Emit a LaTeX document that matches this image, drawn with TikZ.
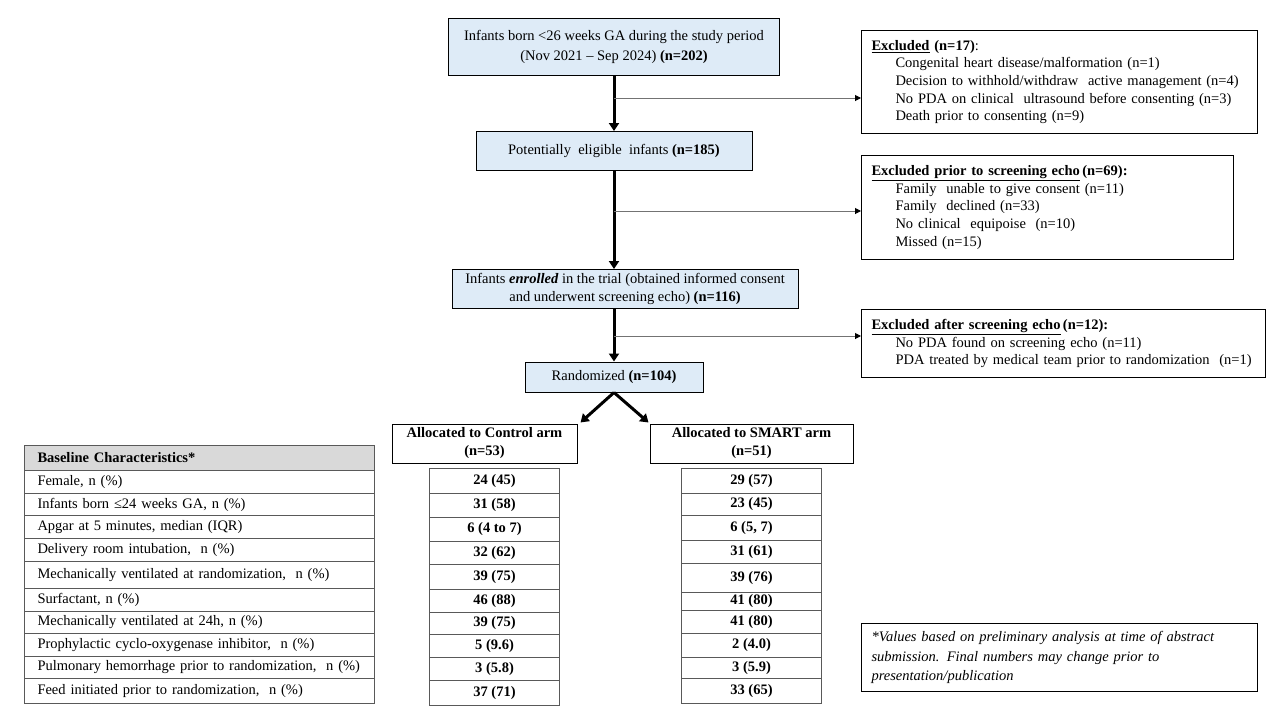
\documentclass[tikz,border=0pt]{standalone}
\usepackage{fontspec}
\setmainfont{Liberation Serif}
\usetikzlibrary{arrows.meta}
\definecolor{flowblue}{HTML}{DEEBF7}
\definecolor{hdrgray}{HTML}{D9D9D9}
\begin{document}
\begin{tikzpicture}[x=1pt,y=-1pt,
  font=\fontsize{14.5}{18}\selectfont,
  flow/.style={draw=black, line width=1pt, fill=flowblue, align=center, inner sep=0pt},
  armbox/.style={draw=black, line width=1pt, fill=white, align=center, inner sep=0pt, font=\bfseries\fontsize{14.5}{18}\selectfont},
  exbox/.style={draw=black, line width=1pt, align=left, inner xsep=10pt, inner ysep=0pt, anchor=north west, font=\fontsize{14.5}{17.6}\selectfont},
  cell/.style={draw=black!65, line width=1pt, align=left, inner xsep=13pt, inner ysep=0pt, anchor=north west, text width=324pt},
  vcell/.style={draw=black!65, line width=1pt, align=center, inner sep=0pt, anchor=north west, font=\bfseries\fontsize{14.5}{18}\selectfont},
  mainarrow/.style={line width=3pt, -{Triangle[width=10pt,length=8pt]}},
  sidearrow/.style={line width=1pt, draw=black!55, -{Triangle[width=6pt,length=6pt,color=black]}}
]
\fill[white] (0,0) rectangle (1280,720);
\useasboundingbox (0,0) rectangle (1280,720);

% main flow
\node[flow, minimum width=331pt, minimum height=57pt, font=\fontsize{14.5}{20}\selectfont] (b1) at (614,46.5)
  {Infants born <26 weeks GA during the study period\\(Nov 2021 -- Sep 2024) \textbf{(n=202)}};
\node[flow, minimum width=276pt, minimum height=39pt] (b2) at (614,151)
  {Potentially\ \ eligible\ \ infants \textbf{(n=185)}};
\node[flow, minimum width=346pt, minimum height=39pt, font=\fontsize{14.5}{17.5}\selectfont] (b3) at (625,289)
  {Infants \textbf{\textit{enrolled}} in the trial (obtained informed consent\\and underwent screening echo) \textbf{(n=116)}};
\node[flow, minimum width=178pt, minimum height=30pt] (b4) at (614,377)
  {Randomized \textbf{(n=104)}};

\node[armbox, minimum width=185pt, minimum height=39pt] (ctrl) at (484.5,443.5)
  {Allocated to Control arm\\(n=53)};
\node[armbox, minimum width=203pt, minimum height=39pt] (smart) at (751.5,443.5)
  {Allocated to SMART arm\\(n=51)};

\draw[mainarrow] (b1.south) -- (b2.north);
\draw[mainarrow] (b2.south) -- (b2.south |- b3.north);
\draw[mainarrow] (b4.north |- b3.south) -- (b4.north);
\draw[mainarrow] (b4.south) -- ([xshift=3pt,yshift=1pt]ctrl.north east);
\draw[mainarrow] (b4.south) -- ([xshift=-1pt,yshift=1pt]smart.north west);

% exclusion boxes
\node[exbox, minimum width=396pt, minimum height=103pt, text width=376pt] (ex1) at (861,30)
  {\underline{\textbf{Excluded}} \textbf{(n=17)}:\\
   \hspace*{24pt}Congenital\ heart disease/malformation (n=1)\\
   \hspace*{24pt}Decision to withhold/withdraw\ \ active management (n=4)\\
   \hspace*{24pt}No PDA on clinical\ \ ultrasound before consenting (n=3)\\
   \hspace*{24pt}Death prior\ to consenting (n=9)};
\node[exbox, minimum width=372pt, minimum height=104pt, text width=352pt] (ex2) at (861,155)
  {\underline{\textbf{Excluded prior to screening echo}}\,\textbf{(n=69):}\\
   \hspace*{24pt}Family\ \ unable to give consent (n=11)\\
   \hspace*{24pt}Family\ \ declined (n=33)\\
   \hspace*{24pt}No clinical\ \ equipoise\ \ (n=10)\\
   \hspace*{24pt}Missed (n=15)};
\node[exbox, minimum width=404pt, minimum height=68pt, text width=384pt] (ex3) at (861,309)
  {\underline{\textbf{Excluded after screening echo}}\,\textbf{(n=12):}\\
   \hspace*{24pt}No PDA found on screening echo (n=11)\\
   \hspace*{24pt}PDA treated by medical team prior\ to randomization\ \ (n=1)};
\node[exbox, minimum width=396pt, minimum height=68pt, text width=376pt, font=\itshape\fontsize{14.5}{19.5}\selectfont] (foot) at (861,623)
  {*Values based on preliminary analysis at time of abstract\\
   submission. Final numbers may change prior to\\
   presentation/publication};

\coordinate (j1) at (614,98);
\coordinate (j2) at (614,211);
\coordinate (j3) at (614,336);
\draw[sidearrow] (j1) -- (j1 -| ex1.west);
\draw[sidearrow] (j2) -- (j2 -| ex2.west);
\draw[sidearrow] (j3) -- (j3 -| ex3.west);

% baseline table
\node[cell, fill=hdrgray, minimum height=25pt] (L0) at (24,445) {\textbf{Baseline Characteristics*}};
\foreach \t/\b/\s [count=\i] in {
  470/493/{Female, n (\%)},
  493/515/{Infants born ≤24 weeks GA, n (\%)},
  515/538/{Apgar at 5 minutes,\ median (IQR)},
  538/561/{Delivery room intubation,\ \ n (\%)},
  561/588/{Mechanically\ ventilated at randomization,\ \ n (\%)},
  588/611/{Surfactant, n (\%)},
  611/633/{Mechanically\ ventilated at 24h,\ n (\%)},
  633/656/{Prophylactic cyclo-oxygenase inhibitor,\ \ n (\%)},
  656/678/{Pulmonary\ hemorrhage prior\ to randomization,\ \ n (\%)},
  678/703/{Feed initiated\ prior\ to randomization,\ \ n (\%)}}
  \node[cell, minimum height={(\b-\t)*1pt}] (L\i) at (24,\t) {\s};

\foreach \t/\b/\s [count=\i] in {
  468/493/{24 (45)}, 493/517/{31 (58)}, 517/541/{6 (4 to 7)}, 541/564/{32 (62)},
  564/589/{39 (75)}, 589/612/{46 (88)}, 612/634/{39 (75)}, 634/657/{5 (9.6)},
  657/680/{3 (5.8)}, 680/705/{37 (71)}}
  \node[vcell, minimum width=130pt, minimum height={(\b-\t)*1pt}] (C\i) at (429,\t) {\s};

\foreach \t/\b/\s [count=\i] in {
  468/493/{29 (57)}, 493/515/{23 (45)}, 515/540/{6 (5, 7)}, 540/563/{31 (61)},
  563/592/{39 (76)}, 592/610/{41 (80)}, 610/633/{41 (80)}, 633/657/{2 (4.0)},
  657/678/{3 (5.9)}, 678/703/{33 (65)}}
  \node[vcell, minimum width=140pt, minimum height={(\b-\t)*1pt}] (S\i) at (681,\t) {\s};
\end{tikzpicture}
\end{document}
